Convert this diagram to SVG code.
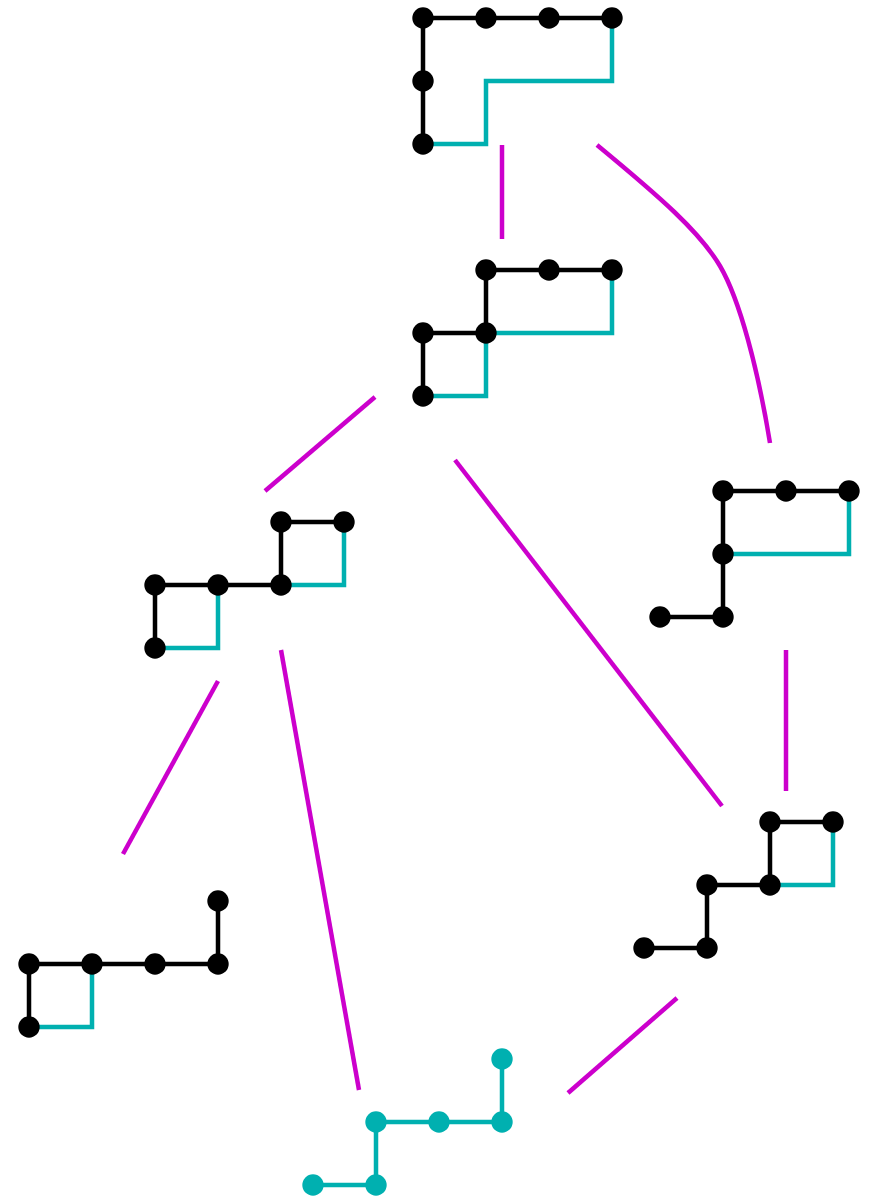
<svg xmlns="http://www.w3.org/2000/svg" width="869" height="1198" viewBox="0 0 869 1198">
<style>
.k{stroke:#000;stroke-width:4.5;fill:none}
.t{stroke:#00b0b0;stroke-width:4.5;fill:none}
.e{stroke:#cc00cc;stroke-width:4.5;fill:none}
.d circle{fill:#000}
.dt circle{fill:#00b0b0}
</style>
<rect width="869" height="1198" fill="#fff"/>
<g id="connectors">
<path class="e" d="M502,145V239"/>
<path class="e" d="M597,145C660,197 700,232 720,266C740,300 758,370 770,443"/>
<path class="e" d="M375,397L265,491"/>
<path class="e" d="M455,460L722,806"/>
<path class="e" d="M786,650V791"/>
<path class="e" d="M218,681L123,854"/>
<path class="e" d="M281,650L359,1090"/>
<path class="e" d="M677,998L568,1093"/>
</g>
<g id="node1">
<path class="t" d="M612,18V81H486V144H423"/>
<path class="k" d="M612,18H423V144"/>
<g class="d"><circle cx="423" cy="18" r="10.7"/><circle cx="486" cy="18" r="10.7"/><circle cx="549" cy="18" r="10.7"/><circle cx="612" cy="18" r="10.7"/><circle cx="423" cy="81" r="10.7"/><circle cx="423" cy="144" r="10.7"/></g>
</g>
<g id="node2">
<path class="t" d="M612,270V333H486V396H423"/>
<path class="k" d="M612,270H486V333H423V396"/>
<g class="d"><circle cx="486" cy="270" r="10.7"/><circle cx="549" cy="270" r="10.7"/><circle cx="612" cy="270" r="10.7"/><circle cx="423" cy="333" r="10.7"/><circle cx="486" cy="333" r="10.7"/><circle cx="423" cy="396" r="10.7"/></g>
</g>
<g id="node3">
<path class="t" d="M344,522V585H281M218,585V648H155"/>
<path class="k" d="M344,522H281V585H155V648"/>
<g class="d"><circle cx="281" cy="522" r="10.7"/><circle cx="344" cy="522" r="10.7"/><circle cx="155" cy="585" r="10.7"/><circle cx="218" cy="585" r="10.7"/><circle cx="281" cy="585" r="10.7"/><circle cx="155" cy="648" r="10.7"/></g>
</g>
<g id="node4">
<path class="t" d="M849,491V554H723"/>
<path class="k" d="M849,491H723V617H660"/>
<g class="d"><circle cx="723" cy="491" r="10.7"/><circle cx="786" cy="491" r="10.7"/><circle cx="849" cy="491" r="10.7"/><circle cx="723" cy="554" r="10.7"/><circle cx="660" cy="617" r="10.7"/><circle cx="723" cy="617" r="10.7"/></g>
</g>
<g id="node5">
<path class="t" d="M833,822V885H770"/>
<path class="k" d="M833,822H770V885H707V948H644"/>
<g class="d"><circle cx="770" cy="822" r="10.7"/><circle cx="833" cy="822" r="10.7"/><circle cx="707" cy="885" r="10.7"/><circle cx="770" cy="885" r="10.7"/><circle cx="644" cy="948" r="10.7"/><circle cx="707" cy="948" r="10.7"/></g>
</g>
<g id="node6">
<path class="t" d="M92,964V1027H29"/>
<path class="k" d="M218,901V964H29V1027"/>
<g class="d"><circle cx="218" cy="901" r="10.7"/><circle cx="29" cy="964" r="10.7"/><circle cx="92" cy="964" r="10.7"/><circle cx="155" cy="964" r="10.7"/><circle cx="218" cy="964" r="10.7"/><circle cx="29" cy="1027" r="10.7"/></g>
</g>
<g id="node7">
<path class="t" d="M502,1059V1122H376V1185H313"/>
<g class="dt"><circle cx="502" cy="1059" r="10.7"/><circle cx="376" cy="1122" r="10.7"/><circle cx="439" cy="1122" r="10.7"/><circle cx="502" cy="1122" r="10.7"/><circle cx="313" cy="1185" r="10.7"/><circle cx="376" cy="1185" r="10.7"/></g>
</g>
</svg>
